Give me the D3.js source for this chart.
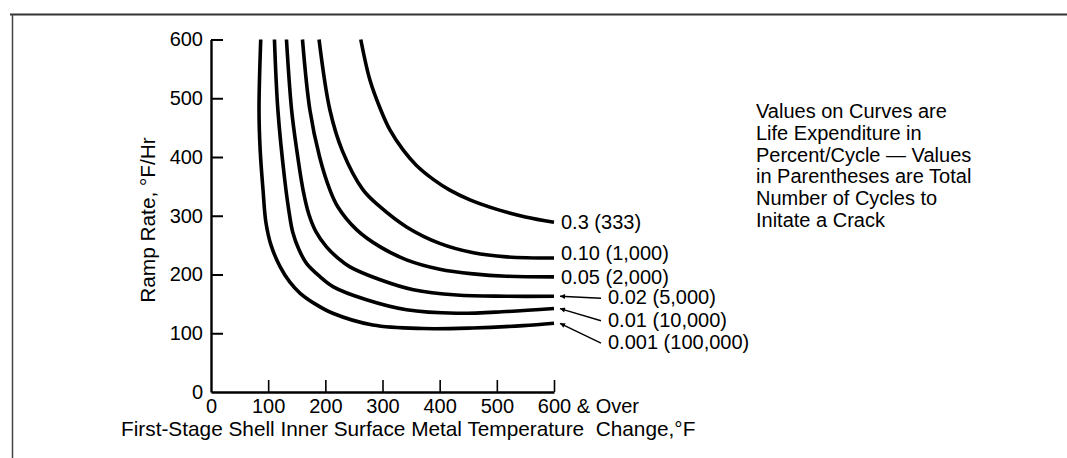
<!DOCTYPE html>
<html><head><meta charset="utf-8">
<script src="https://cdn.jsdelivr.net/npm/d3@7"></script>
<style>
body{margin:0;background:#fff}
svg{display:block}
text{font-family:"Liberation Sans",Arial,Helvetica,sans-serif;fill:#000;white-space:pre}
</style></head><body>
<svg id="chart" width="1067" height="458"></svg>
<script>
// ---- data ----
const xTicks = [0, 100, 200, 300, 400, 500, 600];
const yTicks = [0, 100, 200, 300, 400, 500, 600];
const seriesNames = ["0.3 (333)", "0.10 (1,000)", "0.05 (2,000)", "0.02 (5,000)", "0.01 (10,000)", "0.001 (100,000)"];
// [temperature change °F, ramp rate °F/Hr]
const curve03   = [[262,600],[278,531],[297,480],[313,446],[336,412],[359,386],[390,361],[417,344],[453,327],[503,310],[550,298],[600,289]];
const curve010  = [[189,600],[208,480],[230,410],[266,344],[296,315],[342,281],[400,253],[459,237],[517,230],[600,228]];
const curve005  = [[160,600],[173,480],[190,400],[208,344],[222,315],[255,276],[296,247],[342,225],[400,209],[459,201],[517,197],[600,196]];
const curve002  = [[132,600],[141,480],[150,412],[161,344],[171,303],[184,272],[202,247],[222,228],[243,213],[296,191],[354,174],[430,165],[517,163],[600,163]];
const curve001  = [[111,600],[117,480],[129,361],[136,310],[143,272],[154,242],[167,219],[191,196],[214,179],[272,157],[342,140],[430,134],[517,137],[600,142]];
const curve0001 = [[87,600],[84,480],[86,412],[91,344],[96,289],[105,250],[121,213],[138,187],[156,168],[182,150],[213,134],[283,114],[371,108],[458,109],[546,113],[600,117]];
const noteLines = ["Values on Curves are", "Life Expenditure in", "Percent/Cycle \u2014 Values", "in Parentheses are Total", "Number of Cycles to", "Initate a Crack"];
const xTitle = "First-Stage Shell Inner Surface Metal Temperature  Change,\u00b0F";
const yTitle = "Ramp Rate, \u00b0F/Hr";
const xOverText = " & Over";

const curves = [curve03, curve010, curve005, curve002, curve001, curve0001];

// ---- layout ----
const svg = d3.select("#chart");
const x = d3.scaleLinear().domain([0, 600]).range([211, 554]);
const y = d3.scaleLinear().domain([0, 600]).range([392, 39.5]);
const FS = 20;
const INK = "#000";

// frame
svg.append("line").attr("x1", 10).attr("x2", 1067).attr("y1", 14.5).attr("y2", 14.5)
  .attr("stroke", "#333").attr("stroke-width", 2);
svg.append("line").attr("x1", 12.5).attr("x2", 12.5).attr("y1", 14).attr("y2", 458)
  .attr("stroke", "#444").attr("stroke-width", 1.5);

// y axis
const gy = svg.append("g").attr("transform", "translate(211,0)")
  .call(d3.axisLeft(y).tickValues(yTicks).tickSize(-12).tickSizeOuter(0).tickPadding(8).tickFormat(d3.format("d")));
gy.select(".domain").attr("stroke", INK).attr("stroke-width", 2.4);
gy.selectAll(".tick line").attr("stroke", INK).attr("stroke-width", 2);
gy.selectAll(".tick").filter(d => d === 0).select("line").remove();
gy.selectAll(".tick text").attr("font-size", FS).attr("font-family", null).style("fill", INK);

// x axis
const gx = svg.append("g").attr("transform", "translate(0,392)")
  .call(d3.axisBottom(x).tickValues(xTicks).tickSize(-12).tickSizeOuter(0).tickPadding(7).tickFormat(d3.format("d")));
gx.select(".domain").attr("stroke", INK).attr("stroke-width", 2.4);
gx.selectAll(".tick line").attr("stroke", INK).attr("stroke-width", 1.6);
gx.selectAll(".tick").filter(d => d === 0).select("line").remove();
gx.selectAll(".tick text").attr("font-size", FS).attr("font-family", null).style("fill", INK);
// "600 & Over"
gx.selectAll(".tick").filter(d => d === 600).select("text").each(function () {
  const t = d3.select(this);
  const w = this.getComputedTextLength();
  t.attr("text-anchor", "start").attr("x", -w / 2).text(t.text() + xOverText);
});

// axis titles
svg.append("text").attr("x", 121).attr("y", 436).attr("font-size", 20.8).text(xTitle);
svg.append("text").attr("transform", "translate(155,220) rotate(-90)")
  .attr("text-anchor", "middle").attr("font-size", 20.8).text(yTitle);

// curves
const line = d3.line().x(d => x(d[0])).y(d => y(d[1])).curve(d3.curveCatmullRom.alpha(0.5));
svg.append("g").selectAll("path").data(curves).join("path")
  .attr("d", line).attr("fill", "none").attr("stroke", INK)
  .attr("stroke-width", 3.6).attr("stroke-linecap", "butt").attr("stroke-linejoin", "round");

// arrow marker
svg.append("defs").append("marker").attr("id", "ah")
  .attr("viewBox", "0 0 10 10").attr("refX", 10).attr("refY", 5)
  .attr("markerWidth", 9).attr("markerHeight", 5).attr("markerUnits", "userSpaceOnUse")
  .attr("orient", "auto")
  .append("path").attr("d", "M0,0 L10,5 L0,10 Z").attr("fill", INK);

// curve labels
const labelNudge = [0, -5, 0];
const labels = svg.append("g");
curves.forEach((c, i) => {
  const end = c[c.length - 1];
  const ex = x(end[0]), ey = y(end[1]);
  if (i < 3) {
    labels.append("text").attr("x", ex + 7).attr("y", ey + labelNudge[i]).attr("dy", "0.35em")
      .attr("font-size", FS).text(seriesNames[i]);
  } else {
    const base = y(curves[3][curves[3].length - 1][1]) + 1;
    const ly = base + (i - 3) * 22.5;
    labels.append("line").attr("x1", ex + 47).attr("y1", ly + 1).attr("x2", ex + 6).attr("y2", ey)
      .attr("stroke", INK).attr("stroke-width", 1.4).attr("marker-end", "url(#ah)");
    labels.append("text").attr("x", ex + 54).attr("y", ly).attr("dy", "0.35em")
      .attr("font-size", FS).text(seriesNames[i]);
  }
});

// note
const note = svg.append("text").attr("x", 756).attr("y", 118).attr("font-size", FS);
note.selectAll("tspan").data(noteLines).join("tspan")
  .attr("x", 756).attr("dy", (d, i) => i === 0 ? 0 : 21.8).text(d => d);
</script>
</body></html>
